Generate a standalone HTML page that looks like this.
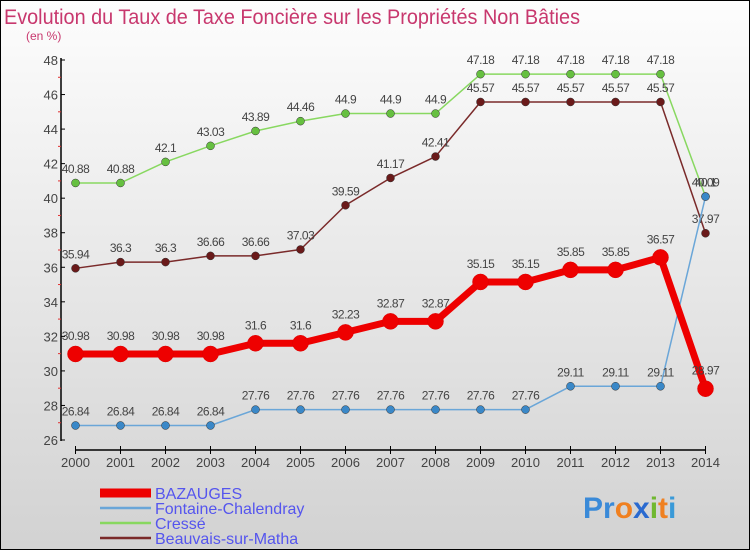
<!DOCTYPE html>
<html><head><meta charset="utf-8"><style>
body{margin:0;padding:0}
#wrap{position:relative;width:750px;height:550px;box-sizing:border-box;border:1px solid #000;background:linear-gradient(#fdfdfd,#d2d2d2);font-family:"Liberation Sans",sans-serif;overflow:hidden}
</style></head><body>
<div id="wrap">
<svg id="chart" width="750" height="550" style="position:absolute;left:-1px;top:-1px">
<text x="4" y="24" font-size="21" fill="#c8386e" textLength="576" lengthAdjust="spacingAndGlyphs">Evolution du Taux de Taxe Foncière sur les Propriétés Non Bâties</text>
<text x="26" y="40" font-size="12" fill="#c8386e">(en %)</text>
<g id="axes"></g><g id="series"></g><g id="legend"></g>
<text x="583" y="518" font-size="30" font-weight="bold"><tspan fill="#3a8ad8">Pr</tspan><tspan fill="#f08020">o</tspan><tspan fill="#2a6ad0">x</tspan><tspan fill="#70b830">i</tspan><tspan fill="#f08020">t</tspan><tspan fill="#3a9ad8">i</tspan></text>
</svg>
</div>
<script>
const years=[2000,2001,2002,2003,2004,2005,2006,2007,2008,2009,2010,2011,2012,2013,2014];
const yTicks=[26,28,30,32,34,36,38,40,42,44,46,48];
const bazauges=[30.98,30.98,30.98,30.98,31.6,31.6,32.23,32.87,32.87,35.15,35.15,35.85,35.85,36.57,28.97];
const fontaine=[26.84,26.84,26.84,26.84,27.76,27.76,27.76,27.76,27.76,27.76,27.76,29.11,29.11,29.11,40.09];
const cresse=[40.88,40.88,42.1,43.03,43.89,44.46,44.9,44.9,44.9,47.18,47.18,47.18,47.18,47.18,40.1];
const beauvais=[35.94,36.3,36.3,36.66,36.66,37.03,39.59,41.17,42.41,45.57,45.57,45.57,45.57,45.57,37.97];
const seriesNames=["BAZAUGES","Fontaine-Chalendray","Cressé","Beauvais-sur-Matha"];
const NS="http://www.w3.org/2000/svg";
const X=i=>75.5+i*45;
const Y=v=>440-(v-26)*(380/22);
function mk(tag,at,parent){const e=document.createElementNS(NS,tag);for(const k in at)e.setAttribute(k,at[k]);parent.appendChild(e);return e;}
const ax=document.getElementById('axes');
let a=mk('line',{x1:61,y1:58,x2:61,y2:441,stroke:'#000','stroke-width':1.5},ax);

a=mk('line',{x1:75,y1:450,x2:706,y2:450,stroke:'#000','stroke-width':1.5},ax);

yTicks.forEach(t=>{
  mk('line',{x1:61,y1:Y(t),x2:65,y2:Y(t),stroke:'#000'},ax);
  if(t<48) mk('line',{x1:58,y1:Y(t+1),x2:61,y2:Y(t+1),stroke:'#e03030'},ax);
  const tx=mk('text',{x:58,y:Y(t)+5,'font-size':13,fill:'#444','text-anchor':'end'},ax);
  tx.textContent=t;
  
  
});
years.forEach((yr,i)=>{
  mk('line',{x1:X(i),y1:446,x2:X(i),y2:454,stroke:'#000'},ax);
  const tx=mk('text',{x:X(i),y:467,'font-size':13,fill:'#444','text-anchor':'middle'},ax);
  tx.textContent=yr;
  
  
});
const sg=document.getElementById('series');
const defs=[
 {d:cresse,c:'#88d860',dot:'#66c040',w:1.5,r:4,name:'cresse'},
 {d:beauvais,c:'#7a2a2a',dot:'#6a1a1a',w:1.5,r:4,name:'beauvais'},
 {d:fontaine,c:'#6aa6d8',dot:'#3a88c8',w:1.5,r:4,name:'fontaine'},
 {d:bazauges,c:'#ee0000',dot:'#ee0000',w:7,r:8,name:'bazauges'}
];
defs.forEach(s=>{
  const g=mk('g',{},sg);
  
  
  const p=mk('polyline',{points:s.d.map((v,i)=>X(i)+','+Y(v)).join(' '),fill:'none',stroke:s.c,'stroke-width':s.w,'stroke-linejoin':'round'},g);
  
  
  s.d.forEach((v,i)=>{
    const c=mk('circle',{cx:X(i),cy:Y(v),r:s.r,fill:s.dot,stroke:s.name==='bazauges'?'#d00':'#333','stroke-width':0.5},g);
    
    
    const t=mk('text',{x:X(i),y:Y(v)-(s.r+6),'font-size':12,fill:'#444','text-anchor':'middle','letter-spacing':'-0.5'},g);
    t.textContent=v;
    
    
  });
});
const lg=document.getElementById('legend');
const lcol=['#ee0000','#6aa6d8','#88d860','#7a2a2a'];
const lw=[9,2.5,2.5,2.5];
const ly=[493,508,523,538];
seriesNames.forEach((n,i)=>{
  const g=mk('g',{},lg);
  
  
  mk('line',{x1:100,y1:ly[i],x2:151,y2:ly[i],stroke:lcol[i],'stroke-width':lw[i]},g);
  const t=mk('text',{x:155,y:ly[i]+6,'font-size':16,fill:'#5555ee'},g);
  t.textContent=n;
  
  
});
</script>
</body></html>
